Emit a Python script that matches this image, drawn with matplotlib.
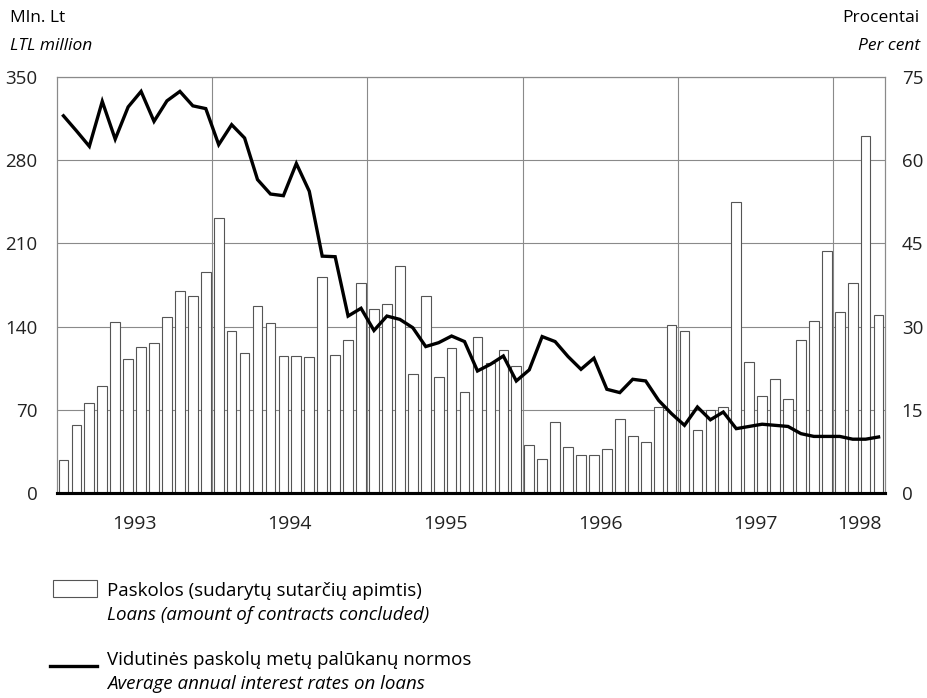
import numpy as np
import matplotlib.pyplot as plt
from matplotlib.patches import Rectangle
from matplotlib.lines import Line2D

plt.rcParams['font.family'] = ['Open Sans', 'DejaVu Sans']

# Monthly data, Jan 1993 - Apr 1998
loans = [27.5, 57, 76, 90, 144, 113, 123, 126, 148, 170, 166, 186,
         231, 136, 118, 157, 143, 115, 115, 114, 182, 116, 129, 177,
         155, 159, 191, 100, 166, 98, 122, 85, 131, 109, 120, 107,
         40, 29, 60, 39, 32, 32, 37, 62, 48, 43, 72, 141,
         136, 53, 70, 72, 245, 110, 82, 96, 79, 129, 145, 204,
         152, 177, 300, 150]
rates = [68.0, 65.3, 62.5, 70.6, 63.8, 69.6, 72.4, 67.0, 70.7, 72.4, 69.8, 69.3,
         62.8, 66.4, 64.0, 56.5, 53.9, 53.6, 59.4, 54.4, 42.7, 42.6, 31.9, 33.3,
         29.3, 31.9, 31.3, 29.8, 26.4, 27.1, 28.3, 27.3, 22.0, 23.2, 24.7, 20.2,
         22.2, 28.2, 27.3, 24.6, 22.3, 24.3, 18.7, 18.1, 20.5, 20.2, 16.7, 14.3,
         12.2, 15.5, 13.2, 14.6, 11.6, 12.0, 12.4, 12.2, 12.0, 10.7, 10.2, 10.2,
         10.2, 9.7, 9.7, 10.1]
years = ['1993', '1994', '1995', '1996', '1997', '1998']
left_ticks = [0, 70, 140, 210, 280, 350]
right_ticks = [0, 15, 30, 45, 60, 75]

n = len(loans)
x = np.arange(n) + 0.5

fig = plt.figure(figsize=(9.28, 6.98), dpi=100)
ax = fig.add_axes([0.0614, 0.2937, 0.8923, 0.596])
ax2 = ax.twinx()

grid_c = '#8a8a8a'
for v in left_ticks[1:]:
    ax.axhline(v, color=grid_c, lw=0.8, zorder=0)
for k in range(1, len(years)):
    ax.axvline(12 * k, color=grid_c, lw=0.8, zorder=0)

ax.bar(x, loans, width=0.75, facecolor='white', edgecolor='#555555',
       linewidth=0.8, zorder=2)
ax.set_xlim(0, n)
ax.set_ylim(0, 350)
ax.set_yticks(left_ticks)
ax.set_yticklabels([str(v) for v in left_ticks])

ax2.plot(x, rates, color='black', lw=2.4, solid_joinstyle='miter', zorder=3)
ax2.set_ylim(0, 75)
ax2.set_yticks(right_ticks)
ax2.set_yticklabels([str(v) for v in right_ticks])

year_pos = [6 + 12 * k for k in range(len(years) - 1)] + [62]
ax.set_xticks(year_pos)
ax.set_xticklabels(years)

for a in (ax, ax2):
    a.tick_params(length=0, labelsize=13.5, colors='#222222', pad=8)
    for s in ('top', 'left', 'right'):
        a.spines[s].set_color(grid_c)
        a.spines[s].set_linewidth(0.8)
    a.spines['bottom'].set_color('black')
    a.spines['bottom'].set_linewidth(2.2)
ax.tick_params(axis='x', labelsize=14, pad=16)
ax.tick_params(axis='y', pad=14)
ax2.tick_params(axis='y', pad=12)
ax.set_zorder(ax2.get_zorder() - 1)
ax2.patch.set_visible(False)

# axis unit labels
fig.text(10 / 928, 1 - 18 / 698, 'Mln. Lt', fontsize=12.5, va='center', ha='left')
fig.text(10 / 928, 1 - 46 / 698, 'LTL million', fontsize=12.5, style='italic',
         va='center', ha='left')
fig.text(920 / 928, 1 - 18 / 698, 'Procentai', fontsize=12.5, va='center', ha='right')
fig.text(920 / 928, 1 - 46 / 698, 'Per cent', fontsize=12.5, style='italic',
         va='center', ha='right')

# legend
fs = 13.5
fig.patches.append(Rectangle((53 / 928, 1 - 597 / 698), 44 / 928, 17 / 698,
                             transform=fig.transFigure, facecolor='white',
                             edgecolor='#555555', lw=0.8))
fig.text(107 / 928, 1 - 591 / 698, 'Paskolos (sudarytų sutarčių apimtis)',
         fontsize=fs, va='center', ha='left')
fig.text(107 / 928, 1 - 615 / 698, 'Loans (amount of contracts concluded)',
         fontsize=fs, style='italic', va='center', ha='left')
fig.lines.append(Line2D([50 / 928, 97 / 928], [1 - 666 / 698, 1 - 666 / 698],
                        transform=fig.transFigure, color='black', lw=2.4))
fig.text(107 / 928, 1 - 660 / 698, 'Vidutinės paskolų metų palūkanų normos',
         fontsize=fs, va='center', ha='left')
fig.text(107 / 928, 1 - 684 / 698, 'Average annual interest rates on loans',
         fontsize=fs, style='italic', va='center', ha='left')

fig.savefig('out.png', dpi=100)
